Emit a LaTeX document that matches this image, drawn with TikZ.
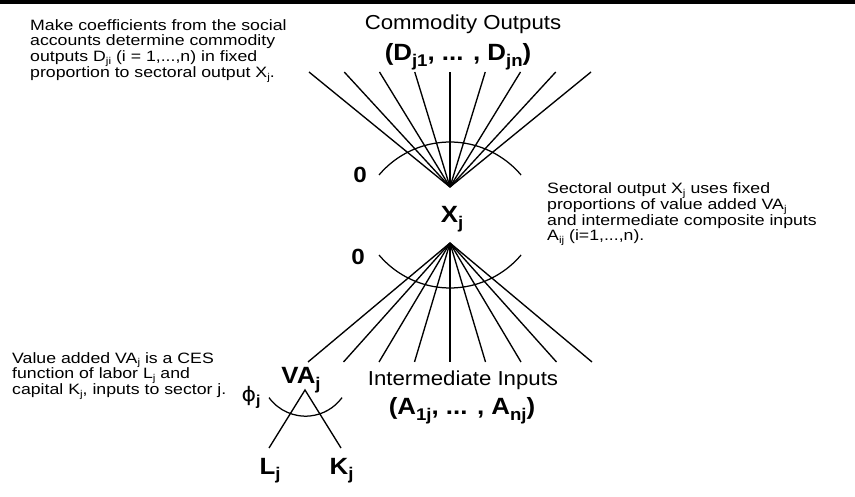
\documentclass[tikz,border=0pt]{standalone}
\usepackage{fontspec}
\setmainfont{Liberation Sans}[FakeStretch=1.1]
\newfontfamily\bodyfont{Liberation Sans}[FakeStretch=1.18]
\newfontfamily\phifont{DejaVu Sans}[FakeStretch=1.1]
\newcommand\sbs[1]{\smash{\raisebox{-0.45ex}{\scalebox{0.72}{#1}}}}
\newcommand\tsb[1]{\smash{\raisebox{-0.35ex}{\scalebox{0.66}{#1}}}}
\begin{document}
\begin{tikzpicture}[x=1pt,y=-1pt,
  fanline/.style={line width=1.35pt},
  arcline/.style={line width=1.25pt},
  body/.style={align=left, anchor=north west, inner sep=0pt, font=\bodyfont\fontsize{15}{15.8}\selectfont},
  head/.style={anchor=base, inner sep=0pt, font=\fontsize{20.2}{22}\selectfont},
  blab/.style={anchor=base, inner sep=0pt, font=\fontsize{23.5}{25}\selectfont\bfseries},
  zlab/.style={anchor=base, inner sep=0pt, font=\fontsize{22}{24}\selectfont\bfseries},
]
\useasboundingbox (0,0) rectangle (855,497);
\fill (0,0) rectangle (855,4.5);

% texts
\node[body] (tmake) at (30,19) {Make coefficients from the social\\accounts determine commodity\\outputs D\tsb{ji} (i = 1,...,n) in fixed\\proportion to sectoral output X\tsb{j}.};
\node[body] (tsect) at (547,182.5) {Sectoral output X\tsb{j} uses fixed\\proportions of value added VA\tsb{j}\\and intermediate composite inputs\\A\tsb{ij} (i=1,...,n).};
\node[body] (tval) at (12,352) {Value added VA\tsb{j} is a CES\\function of labor L\tsb{j} and\\capital K\tsb{j}, inputs to sector j.};

\node[head] (comm) at (463,30) {Commodity Outputs};
\node[blab] (dlab) at (458,61) {(D\sbs{j1}, ... , D\sbs{jn})};
\node[head] (inter) at (463,385.5) {Intermediate Inputs};
\node[blab] (alab) at (462,414.5) {(A\sbs{1j}, ... , A\sbs{nj})};

\node[blab] (xj) at (452,222.5) {X\sbs{j}};
\node[zlab] (z1) at (360,183) {0};
\node[zlab] (z2) at (358,265) {0};
\node[blab] (vaj) at (301,384) {VA\sbs{j}};
\node[blab] (lj) at (270,474) {L\sbs{j}};
\node[blab] (kj) at (341.5,474) {K\sbs{j}};
\node[anchor=base, inner sep=0pt, font=\fontsize{20}{22}\selectfont] (phij) at (251,401) {{\phifont ϕ}\sbs{\bfseries j}};

% fans
\coordinate (xt) at (450,187);
\coordinate (xb) at (450,243);
\foreach \k in {0,...,8} {
  \coordinate (dt\k) at ({450+35.25*(\k-4)},72);
  \draw[fanline] (xt) -- (dt\k);
  \coordinate (ab\k) at ({450+35.5*(\k-4)},362);
  \draw[fanline] (xb) -- (ab\k);
}

% arcs
\coordinate (arcT) at (379,175);
\draw[arcline] (arcT) arc[start angle=-139.8, end angle=-40.2, radius=93];
\coordinate (arcB) at (379,255);
\draw[arcline] (arcB) arc[start angle=139.8, end angle=40.2, radius=93];

% value added nest
\coordinate (vtop) at (305,390);
\coordinate (lend) at (269,448);
\coordinate (kend) at (341,448);
\draw[fanline] (lend) -- (vtop) -- (kend);
\coordinate (arcV) at (269,397.6);
\draw[arcline] (arcV) arc[start angle=143.9, end angle=36.1, radius=45.2];
\end{tikzpicture}
\end{document}
